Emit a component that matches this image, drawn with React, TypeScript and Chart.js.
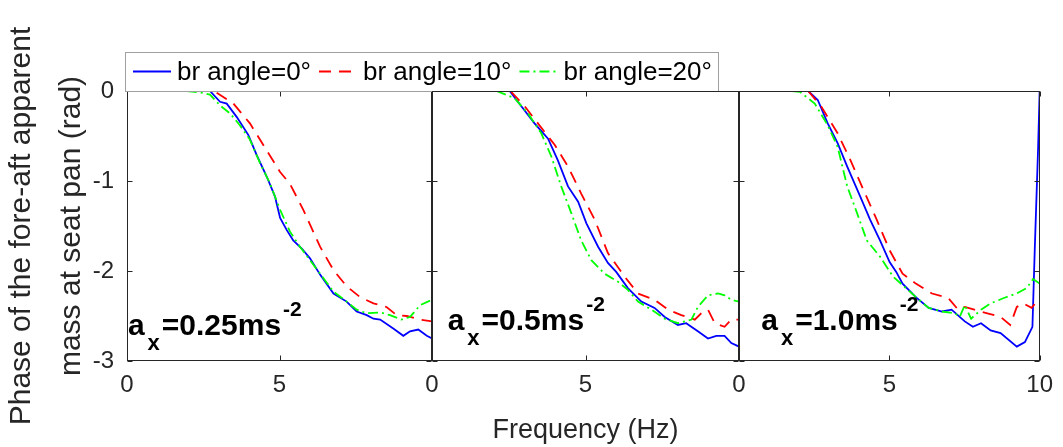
import React, { useEffect, useRef } from "react";
import { Chart, registerables } from "chart.js";

Chart.register(...registerables);

type Pt = [number, number];

// ---------- data (frequency Hz, phase rad) ----------
const p1Blue: Pt[] = [
  [2.72, 0], [3.05, -0.12], [3.27, -0.14], [3.6, -0.29], [3.98, -0.49], [4.25, -0.71],
  [4.58, -0.95], [4.85, -1.17], [5.02, -1.41], [5.23, -1.54], [5.45, -1.66], [5.73, -1.75],
  [6.0, -1.86], [6.33, -2.04], [6.77, -2.25], [7.2, -2.34], [7.53, -2.45], [7.86, -2.49],
  [8.08, -2.53], [8.3, -2.54], [8.73, -2.64], [9.06, -2.72], [9.28, -2.67], [9.55, -2.65],
  [9.83, -2.72], [10.0, -2.75],
];
const p1Red: Pt[] = [
  [2.94, -0.02], [3.49, -0.14], [4.03, -0.36], [4.58, -0.66], [5.02, -0.9], [5.34, -1.03],
  [5.78, -1.32], [6.33, -1.73], [6.77, -1.99], [7.2, -2.17], [7.64, -2.29], [8.08, -2.36],
  [8.51, -2.4], [8.84, -2.49], [9.17, -2.5], [9.61, -2.54], [10.0, -2.56],
];
const p1Green: Pt[] = [
  [1.96, 0], [2.39, -0.015], [2.72, -0.04], [3.05, -0.16], [3.38, -0.25], [3.7, -0.38],
  [4.03, -0.54], [4.36, -0.8], [4.69, -1.03], [5.02, -1.32], [5.34, -1.56], [5.67, -1.73],
  [6.0, -1.88], [6.33, -2.03], [6.77, -2.23], [7.2, -2.34], [7.53, -2.43], [7.86, -2.47],
  [8.3, -2.46], [8.62, -2.49], [9.0, -2.54], [9.28, -2.51], [9.61, -2.38], [10.0, -2.32],
];

const p2Blue: Pt[] = [
  [2.53, 0], [2.91, -0.17], [3.34, -0.36], [3.78, -0.53], [4.1, -0.77], [4.43, -1.06],
  [4.76, -1.23], [5.03, -1.47], [5.41, -1.73], [5.73, -1.91], [6.0, -2.01], [6.38, -2.19],
  [6.82, -2.34], [7.25, -2.41], [7.58, -2.51], [8.01, -2.6], [8.28, -2.58], [8.66, -2.67],
  [8.99, -2.75], [9.26, -2.72], [9.53, -2.72], [9.75, -2.8], [10.0, -2.84],
];
const p2Red: Pt[] = [
  [2.58, -0.01], [3.02, -0.17], [3.45, -0.36], [4.0, -0.6], [4.43, -0.84], [4.86, -1.14],
  [5.3, -1.43], [5.73, -1.8], [6.27, -2.06], [6.71, -2.25], [7.25, -2.32], [7.69, -2.43],
  [8.12, -2.49], [8.56, -2.54], [8.77, -2.47], [8.99, -2.43], [9.21, -2.58], [9.53, -2.62],
  [9.75, -2.54], [10.0, -2.54],
];
const p2Green: Pt[] = [
  [2.1, 0], [2.69, -0.08], [3.13, -0.25], [3.56, -0.47], [3.89, -0.73], [4.21, -1.06],
  [4.54, -1.36], [4.86, -1.66], [5.19, -1.88], [5.62, -2.03], [6.06, -2.12], [6.38, -2.21],
  [6.71, -2.34], [7.15, -2.43], [7.58, -2.53], [8.01, -2.58], [8.45, -2.54], [8.66, -2.4],
  [8.99, -2.27], [9.32, -2.25], [9.53, -2.27], [9.75, -2.32], [10.0, -2.34],
];

const p3Blue: Pt[] = [
  [2.3, 0], [2.62, -0.1], [2.95, -0.36], [3.28, -0.58], [3.6, -0.84], [4.03, -1.17],
  [4.36, -1.43], [4.69, -1.66], [5.01, -1.9], [5.23, -2.01], [5.44, -2.14], [5.88, -2.29],
  [6.31, -2.41], [6.75, -2.45], [7.07, -2.43], [7.51, -2.56], [7.78, -2.62], [8.05, -2.58],
  [8.37, -2.66], [8.7, -2.69], [9.24, -2.84], [9.51, -2.79], [9.76, -2.62], [9.84, -1.73],
  [9.95, -0.62], [10.0, 0],
];
const p3Red: Pt[] = [
  [2.3, 0], [2.73, -0.17], [3.28, -0.47], [3.71, -0.77], [4.14, -1.1], [4.58, -1.43],
  [5.01, -1.77], [5.44, -2.03], [5.88, -2.14], [6.42, -2.25], [6.96, -2.3], [7.29, -2.43],
  [7.51, -2.4], [7.83, -2.43], [8.26, -2.47], [8.7, -2.51], [9.02, -2.6], [9.24, -2.4],
  [9.46, -2.36], [9.73, -2.41], [10.0, -2.3],
];
const p3Green: Pt[] = [
  [1.76, 0], [2.03, -0.01], [2.52, -0.14], [2.95, -0.38], [3.28, -0.62], [3.6, -1.06],
  [3.93, -1.36], [4.25, -1.66], [4.69, -1.84], [5.12, -2.06], [5.55, -2.19], [5.99, -2.32],
  [6.31, -2.41], [6.75, -2.45], [7.18, -2.47], [7.34, -2.51], [7.51, -2.38], [7.72, -2.53],
  [8.05, -2.43], [8.37, -2.36], [8.81, -2.3], [9.24, -2.25], [9.57, -2.19], [9.78, -2.09],
  [10.0, -2.14],
];

const panelSeries: Pt[][][] = [
  [p1Blue, p1Red, p1Green],
  [p2Blue, p2Red, p2Green],
  [p3Blue, p3Red, p3Green],
];

const seriesLabels = ["br angle=0°", "br angle=10°", "br angle=20°"];
const accelLabels = ["0.25", "0.5", "1.0"];
const xTickValues = [0, 5, 10];
const yTickValues = [0, -1, -2, -3];
const yTitleLines = ["Phase of the fore-aft apparent", "mass at seat pan (rad)"];
const xTitle = "Frequency (Hz)";

// ---------- styles / layout ----------
const seriesColors = ["#0000ff", "#ff0000", "#00ff00"];
const seriesDashes = [[], [12, 8], [10, 4, 2, 4]];
const FONT = "'Liberation Sans', Arial, Helvetica, sans-serif";
const FIG_W = 1063;
const FIG_H = 447;
const panelLeft = [127, 432, 739];
const panelRight = [432, 739, 1047];
const plotTop = 91;
const plotBottom = 361;
const annotAnchor: Pt[] = [[0.03, -2.71], [0.51, -2.66], [0.74, -2.66]];
const AXIS_COLOR = "#262626";

const framePlugin = {
  id: "frame",
  afterDatasetsDraw(chart: any) {
    const { ctx, chartArea: a, scales } = chart;
    const L = Math.round(a.left) + 0.5;
    const R = Math.round(a.right) - 0.5;
    const T = Math.round(a.top) + 0.5;
    const B = Math.round(a.bottom) - 0.5;
    ctx.save();
    ctx.strokeStyle = AXIS_COLOR;
    ctx.lineWidth = 1;
    ctx.setLineDash([]);
    ctx.strokeRect(L, T, R - L, B - T);
    const tl = 5;
    ctx.beginPath();
    xTickValues.forEach((v) => {
      const px = Math.round(scales.x.getPixelForValue(v)) + 0.5;
      ctx.moveTo(px, B);
      ctx.lineTo(px, B - tl);
      ctx.moveTo(px, T);
      ctx.lineTo(px, T + tl);
    });
    yTickValues.forEach((v) => {
      const py = Math.round(scales.y.getPixelForValue(v)) + 0.5;
      ctx.moveTo(L, py);
      ctx.lineTo(L + tl, py);
      ctx.moveTo(R, py);
      ctx.lineTo(R - tl, py);
    });
    ctx.stroke();
    ctx.restore();
  },
};

const annotPlugin = {
  id: "annot",
  afterDatasetsDraw(chart: any, _args: any, opts: any) {
    const { ctx, scales } = chart;
    const i = opts.panel as number;
    let x = scales.x.getPixelForValue(annotAnchor[i][0]);
    const y = scales.y.getPixelForValue(annotAnchor[i][1]);
    ctx.save();
    ctx.fillStyle = "#000";
    ctx.textBaseline = "alphabetic";
    ctx.textAlign = "left";
    const big = `bold 30px ${FONT}`;
    ctx.font = big;
    ctx.fillText("a", x, y);
    x += ctx.measureText("a").width + 3;
    ctx.font = `bold 22px ${FONT}`;
    ctx.fillText("x", x, y + 15);
    x += ctx.measureText("x").width + 2;
    ctx.font = big;
    const main = "=" + accelLabels[i] + "ms";
    ctx.fillText(main, x, y);
    x += ctx.measureText(main).width + 2;
    ctx.font = `bold 21px ${FONT}`;
    ctx.fillText("-2", x, y - 19);
    ctx.restore();
  },
};

const legendPlugin = {
  id: "customLegend",
  afterDraw(chart: any, _args: any, opts: any) {
    if (!opts.show) return;
    const { ctx } = chart;
    const boxL = 125.5;
    const boxT = 52.5;
    const boxR = 718.5;
    const boxB = plotTop + 0.5;
    ctx.save();
    ctx.fillStyle = "#ffffff";
    ctx.fillRect(boxL, boxT, boxR - boxL, boxB - boxT);
    ctx.strokeStyle = "#a0a0a0";
    ctx.lineWidth = 1;
    ctx.strokeRect(boxL, boxT, boxR - boxL, boxB - boxT);
    ctx.font = `26px ${FONT}`;
    ctx.textBaseline = "middle";
    ctx.textAlign = "left";
    const cy = 71.5;
    let x = 133;
    seriesLabels.forEach((lab, s) => {
      ctx.strokeStyle = seriesColors[s];
      ctx.lineWidth = 1.8;
      ctx.setLineDash(seriesDashes[s]);
      ctx.beginPath();
      ctx.moveTo(x, cy);
      ctx.lineTo(x + 38, cy);
      ctx.stroke();
      ctx.setLineDash([]);
      ctx.fillStyle = "#000";
      ctx.fillText(lab, x + 44, cy + 1);
      x = x + 44 + ctx.measureText(lab).width + 8;
    });
    ctx.restore();
  },
};

function makeConfig(panel: number): any {
  const datasets = panelSeries[panel].map((pts, s) => ({
    label: seriesLabels[s],
    data: pts.map(([x, y]) => ({ x, y })),
    borderColor: seriesColors[s],
    backgroundColor: seriesColors[s],
    borderDash: seriesDashes[s],
    borderWidth: 1.8,
    pointRadius: 0,
    fill: false,
    tension: 0,
    order: 2 - s,
  }));
  const isFirst = panel === 0;
  return {
    type: "line",
    data: { datasets },
    plugins: [framePlugin, annotPlugin, legendPlugin],
    options: {
      animation: false,
      responsive: false,
      events: [],
      layout: {
        padding: {
          left: isFirst ? 0 : panelLeft[panel],
          right: FIG_W - panelRight[panel],
          top: plotTop,
          bottom: 0,
        },
      },
      plugins: {
        legend: { display: false },
        tooltip: { enabled: false },
        annot: { panel },
        customLegend: { show: isFirst },
      },
      scales: {
        x: {
          type: "linear",
          min: 0,
          max: 10,
          afterBuildTicks: (scale: any) => {
            scale.ticks = xTickValues.map((v) => ({ value: v }));
          },
          afterFit: (scale: any) => {
            scale.height = FIG_H - plotBottom;
          },
          grid: { display: false, drawTicks: false },
          border: { display: false },
          ticks: {
            color: AXIS_COLOR,
            font: { family: FONT, size: 24 },
            padding: 10,
            maxRotation: 0,
            autoSkip: false,
            callback: (v: number) => (v === 10 && panel < 2 ? "" : String(v)),
          },
          title: {
            display: panel === 1,
            text: xTitle,
            color: AXIS_COLOR,
            font: { family: FONT, size: 27, lineHeight: 1.2 },
            padding: { top: 0, bottom: 0 },
          },
        },
        y: {
          type: "linear",
          min: -3,
          max: 0,
          display: true,
          afterBuildTicks: (scale: any) => {
            scale.ticks = yTickValues.map((v) => ({ value: v }));
          },
          afterFit: (scale: any) => {
            scale.width = isFirst ? panelLeft[0] : 0;
          },
          grid: { display: false, drawTicks: false },
          border: { display: false },
          ticks: {
            display: isFirst,
            color: AXIS_COLOR,
            font: { family: FONT, size: 24 },
            padding: 13,
            callback: (v: number) => String(v),
          },
          title: {
            display: isFirst,
            text: yTitleLines,
            color: AXIS_COLOR,
            font: { family: FONT, size: 30, lineHeight: 1.65 },
            padding: { top: -3, bottom: 0 },
          },
        },
      },
    },
  };
}

export default function App() {
  const refs = [useRef<HTMLCanvasElement>(null), useRef<HTMLCanvasElement>(null), useRef<HTMLCanvasElement>(null)];
  useEffect(() => {
    const charts = refs.map((r, i) => new Chart(r.current as HTMLCanvasElement, makeConfig(i)));
    return () => charts.forEach((c) => c.destroy());
  }, []);
  return (
    <div
      style={{
        position: "absolute",
        left: 0,
        top: 0,
        width: FIG_W,
        height: FIG_H,
        background: "#ffffff",
      }}
    >
      {refs.map((r, i) => (
        <canvas
          key={i}
          ref={r}
          width={FIG_W}
          height={FIG_H}
          style={{ position: "absolute", left: 0, top: 0, width: FIG_W, height: FIG_H }}
        />
      ))}
    </div>
  );
}
